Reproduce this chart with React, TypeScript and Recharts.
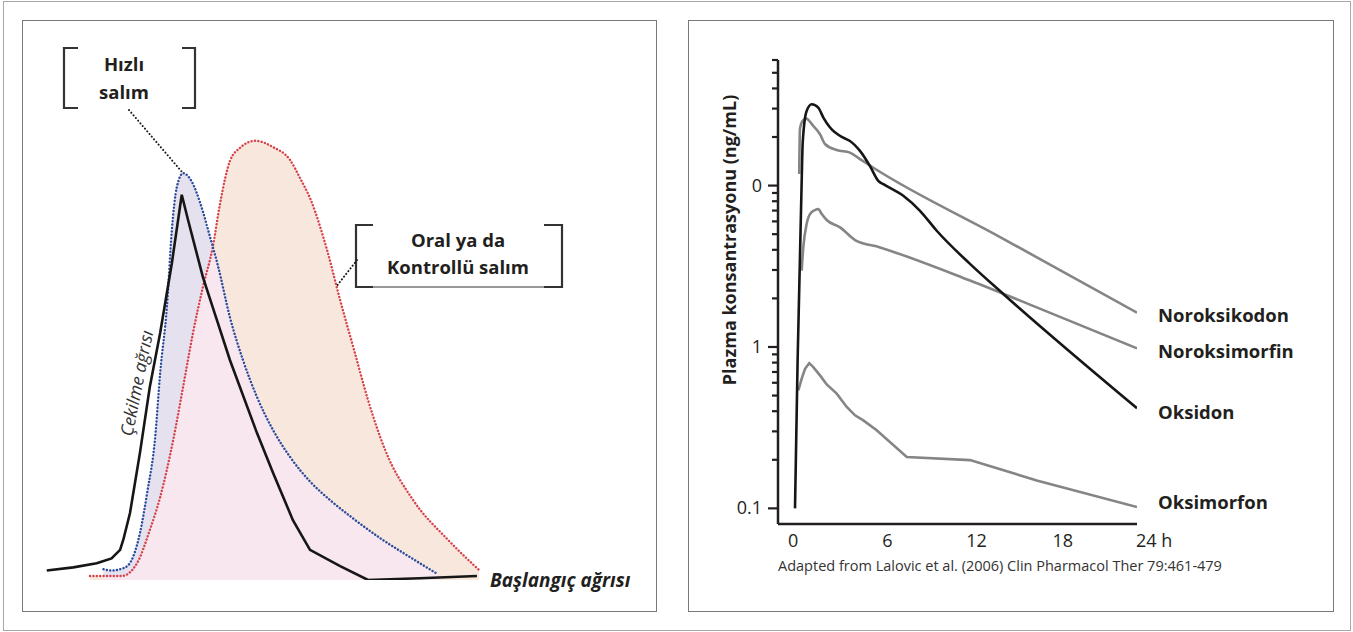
import React from 'react';
import { ComposedChart, LineChart, Line, Area, XAxis, YAxis } from 'recharts';

// ---- left panel: schematic pain curves (arbitrary units, 0-100) ----
// black solid: withdrawal pain with rapid release
const cekilme = [
  { t: 1.5, v: 2.1 }, { t: 7.4, v: 2.8 }, { t: 12.6, v: 3.7 }, { t: 15.9, v: 4.8 },
  { t: 17.8, v: 6.7 }, { t: 18.5, v: 8.9 }, { t: 20.0, v: 14.9 }, { t: 22.2, v: 28.2 },
  { t: 24.4, v: 42.9 }, { t: 26.7, v: 54.9 }, { t: 29.3, v: 70.4 }, { t: 31.5, v: 85.6 },
  { t: 32.9, v: 80.0 }, { t: 36.2, v: 67.3 }, { t: 39.3, v: 57.8 }, { t: 42.2, v: 48.9 },
  { t: 48.2, v: 32.7 }, { t: 51.8, v: 23.8 }, { t: 56.2, v: 13.3 }, { t: 60.0, v: 6.7 },
  { t: 66.7, v: 3.1 }, { t: 72.9, v: 0 }, { t: 84.4, v: 0.4 }, { t: 97.1, v: 0.9 },
];

// blue dotted: rapid release
const hizli = [
  { t: 14.1, v: 2.4 }, { t: 15.9, v: 2.1 }, { t: 17.8, v: 2.4 }, { t: 19.6, v: 3.3 },
  { t: 20.7, v: 5.2 }, { t: 22.2, v: 10.4 }, { t: 23.8, v: 19.3 }, { t: 25.6, v: 31.8 },
  { t: 26.7, v: 46.0 }, { t: 28.2, v: 60.7 }, { t: 29.3, v: 77.8 }, { t: 30.4, v: 87.3 },
  { t: 31.8, v: 90.4 }, { t: 33.8, v: 88.4 }, { t: 35.6, v: 83.8 }, { t: 37.8, v: 76.2 },
  { t: 39.6, v: 69.6 }, { t: 42.2, v: 58.4 }, { t: 45.1, v: 48.9 }, { t: 48.2, v: 40.7 },
  { t: 51.8, v: 33.3 }, { t: 55.6, v: 27.3 }, { t: 60.0, v: 21.9 }, { t: 64.4, v: 17.8 },
  { t: 68.9, v: 14.2 }, { t: 75.6, v: 9.3 }, { t: 82.2, v: 5.1 }, { t: 88.4, v: 1.3 },
];

// red dotted: oral / controlled release
const kontrollu = [
  { t: 11.1, v: 0.9 }, { t: 18.2, v: 0.9 }, { t: 21.6, v: 3.8 }, { t: 24.4, v: 11.1 },
  { t: 26.7, v: 18.4 }, { t: 29.6, v: 31.1 }, { t: 31.8, v: 42.9 }, { t: 34.0, v: 54.9 },
  { t: 36.2, v: 65.1 }, { t: 38.4, v: 74.0 }, { t: 40.0, v: 83.6 }, { t: 42.2, v: 93.1 },
  { t: 44.4, v: 96.0 }, { t: 47.8, v: 97.6 }, { t: 51.8, v: 96.2 }, { t: 55.6, v: 93.3 },
  { t: 57.8, v: 89.3 }, { t: 60.2, v: 84.4 }, { t: 63.8, v: 73.3 }, { t: 66.7, v: 62.2 },
  { t: 69.8, v: 51.1 }, { t: 72.9, v: 40.0 }, { t: 76.7, v: 28.9 }, { t: 82.9, v: 17.8 },
  { t: 90.7, v: 8.9 }, { t: 97.6, v: 2.2 },
];

// ---- right panel: plasma concentration (ng/mL) vs hours ----
const oksidon = [
  { t: 0.47, c: 0.1 }, { t: 0.65, c: 0.83 }, { t: 0.93, c: 10.7 }, { t: 1.0, c: 18.5 },
  { t: 1.27, c: 29 }, { t: 1.62, c: 31.9 }, { t: 2.07, c: 30.4 }, { t: 2.42, c: 26.4 },
  { t: 2.88, c: 22.9 }, { t: 3.79, c: 19.8 }, { t: 4.25, c: 18.9 }, { t: 4.94, c: 16.4 },
  { t: 5.63, c: 13.2 }, { t: 6.2, c: 10.7 }, { t: 6.55, c: 10.2 }, { t: 7.92, c: 8.65 },
  { t: 9.07, c: 6.98 }, { t: 10.22, c: 5.25 }, { t: 12.51, c: 3.27 }, { t: 14.8, c: 2.13 },
  { t: 24, c: 0.417 },
];

const noroksikodon = [
  { t: 0.76, c: 11.8 }, { t: 0.81, c: 22.4 }, { t: 1.0, c: 25.2 }, { t: 1.23, c: 26.0 },
  { t: 1.73, c: 23.4 }, { t: 2.19, c: 20.8 }, { t: 2.53, c: 18.1 }, { t: 3.34, c: 16.6 },
  { t: 4.25, c: 16.0 }, { t: 4.94, c: 14.6 }, { t: 5.86, c: 12.9 }, { t: 14.58, c: 4.8 },
  { t: 24, c: 1.63 },
];

const noroksimorfin = [
  { t: 0.93, c: 2.97 }, { t: 1.04, c: 4.14 }, { t: 1.27, c: 5.78 }, { t: 1.5, c: 6.66 },
  { t: 1.84, c: 7.05 }, { t: 2.07, c: 7.16 }, { t: 2.31, c: 6.66 }, { t: 2.65, c: 6.12 },
  { t: 3.57, c: 5.51 }, { t: 4.6, c: 4.6 }, { t: 6.32, c: 4.14 }, { t: 12.51, c: 2.58 },
  { t: 17.1, c: 1.76 }, { t: 24, c: 0.98 },
];

const oksimorfon = [
  { t: 0.7, c: 0.538 }, { t: 0.93, c: 0.636 }, { t: 1.16, c: 0.733 }, { t: 1.45, c: 0.794 },
  { t: 1.73, c: 0.75 }, { t: 2.19, c: 0.667 }, { t: 2.65, c: 0.586 }, { t: 3.34, c: 0.514 },
  { t: 4.03, c: 0.425 }, { t: 4.6, c: 0.377 }, { t: 5.17, c: 0.351 }, { t: 6.09, c: 0.305 },
  { t: 8.16, c: 0.208 }, { t: 12.51, c: 0.199 }, { t: 17.1, c: 0.149 }, { t: 24, c: 0.102 },
];

const hourTicks = [0, 6, 12, 18, 24];
const concTicks = [0.1, 0.2, 0.3, 0.4, 0.5, 0.6, 0.7, 0.8, 0.9, 1, 2, 3, 4, 5, 6, 7, 8, 9, 10, 20, 30, 40, 50, 60];
// the original figure labels the 10 decade as "0"
const concLabels: Record<string, string> = { '10': '0', '1': '1', '0.1': '0.1' };

const INK = '#231f20';
const GREY = '#858585';
const FONT = '"Open Sans", sans-serif';

function YTick(props: any) {
  const { x, y, payload } = props;
  const label = concLabels[String(payload.value)];
  const len = label !== undefined ? 10 : 6;
  return (
    <g>
      <line x1={x - len} x2={x} y1={y} y2={y} stroke={INK} strokeWidth={2.2} />
      {label !== undefined && (
        <text x={x - 16} y={y + 6} textAnchor="end" fontSize={18} fill={INK} fontFamily={FONT}>
          {label}
        </text>
      )}
    </g>
  );
}

const xShift = [5, 12, 14, 13];
function XTick(props: any) {
  const { x, y, payload, index } = props;
  const last = payload.value === 24;
  return (
    <text
      x={last ? x - 1 : x + (xShift[index] || 0)}
      y={y + 23}
      textAnchor={last ? 'start' : 'middle'}
      fontSize={18}
      fill={INK}
      fontFamily={FONT}
    >
      {last ? '24 h' : payload.value}
    </text>
  );
}

const endLabel = (name: string, dy: number, n: number) => (p: any) =>
  p.index === n - 1 ? (
    <text x={p.x + 21} y={p.y + dy} fontSize={18.5} fontWeight={700} fill={INK} fontFamily={FONT}>
      {name}
    </text>
  ) : (
    <g />
  );

const dotted = { strokeWidth: 2.4, strokeDasharray: '0.1 3.3', strokeLinecap: 'round' as const };

export default function App() {
  return (
    <div
      style={{
        position: 'absolute', left: 0, top: 0, width: 1353, height: 632,
        background: '#fff', overflow: 'hidden', fontFamily: FONT,
      }}
    >
      <style>{`.leftchart .recharts-area-area, .leftchart .blendfill, .leftchart .blendfill path { mix-blend-mode: lighten; }`}</style>

      {/* frames */}
      <div style={{ position: 'absolute', left: 3, top: 1, width: 1348, height: 630, border: '1px solid #a8a8a8', boxSizing: 'border-box' }} />
      <div style={{ position: 'absolute', left: 22, top: 20, width: 635, height: 592, border: '1.5px solid #7a7a7a', boxSizing: 'border-box' }} />
      <div style={{ position: 'absolute', left: 688, top: 20, width: 646, height: 592, border: '1.5px solid #7a7a7a', boxSizing: 'border-box' }} />

      {/* left: schematic */}
      <div className="leftchart" style={{ position: 'absolute', left: 40, top: 130, isolation: 'isolate' }}>
        <ComposedChart width={450} height={450} margin={{ top: 0, right: 0, bottom: 0, left: 0 }}>
          <XAxis type="number" dataKey="t" domain={[0, 100]} hide allowDataOverflow />
          <YAxis type="number" domain={[0, 100]} hide allowDataOverflow />
          <Area data={kontrollu} dataKey="v" type="monotone" className="blendfill" fill="#f8e7dd" fillOpacity={1} stroke="none" isAnimationActive={false} />
          <Area data={hizli} dataKey="v" type="monotone" className="blendfill" fill="#e5e1ef" fillOpacity={1} stroke="none" isAnimationActive={false} />
          <Line data={kontrollu} dataKey="v" type="monotone" stroke="#d7424a" {...dotted} dot={false} isAnimationActive={false} />
          <Line data={hizli} dataKey="v" type="monotone" stroke="#2a4b9b" {...dotted} dot={false} isAnimationActive={false} />
          <Line data={cekilme} dataKey="v" type="linear" stroke="#161616" strokeWidth={2.6} dot={false} isAnimationActive={false} />
        </ComposedChart>
      </div>

      {/* right: plasma levels */}
      <div style={{ position: 'absolute', left: 690, top: 22 }}>
        <LineChart width={640} height={588} margin={{ top: 38, right: 193, bottom: 56, left: 28 }}>
          <XAxis
            type="number" dataKey="t" domain={[-0.7, 24]} ticks={hourTicks} interval={0}
            tick={<XTick />} tickLine={false} tickSize={0} tickMargin={0} height={30}
            axisLine={{ stroke: INK, strokeWidth: 2.5 }} allowDataOverflow
          />
          <YAxis
            type="number" scale="log" domain={[0.08, 60]} ticks={concTicks} interval={0}
            tick={<YTick />} tickLine={false} tickSize={0} tickMargin={0} width={60}
            axisLine={{ stroke: INK, strokeWidth: 2.5 }} allowDataOverflow
            label={{
              content: (p: any) => {
                const cx = p.viewBox.x + 11;
                const cy = p.viewBox.y + 180;
                return (
                  <text x={cx} y={cy} transform={`rotate(-90, ${cx}, ${cy})`} textAnchor="middle" dominantBaseline="central"
                    fontSize={18} fontWeight={700} fill={INK} fontFamily={FONT}>
                    Plazma konsantrasyonu (ng/mL)
                  </text>
                );
              },
            }}
          />
          <Line data={noroksikodon} dataKey="c" type="monotone" stroke={GREY} strokeWidth={2.6} dot={false} isAnimationActive={false}
            label={endLabel('Noroksikodon', 9, noroksikodon.length)} />
          <Line data={noroksimorfin} dataKey="c" type="monotone" stroke={GREY} strokeWidth={2.6} dot={false} isAnimationActive={false}
            label={endLabel('Noroksimorfin', 10, noroksimorfin.length)} />
          <Line data={oksimorfon} dataKey="c" type="linear" stroke={GREY} strokeWidth={2.6} dot={false} isAnimationActive={false}
            label={endLabel('Oksimorfon', 2, oksimorfon.length)} />
          <Line data={oksidon} dataKey="c" type="monotone" stroke="#161616" strokeWidth={2.6} dot={false} isAnimationActive={false}
            label={endLabel('Oksidon', 11, oksidon.length)} />
        </LineChart>
      </div>

      {/* annotations */}
      <svg width={1353} height={632} style={{ position: 'absolute', left: 0, top: 0, pointerEvents: 'none' }}>
        <g fill="none" stroke="#333" strokeWidth={2.2}>
          <path d="M78,48 H64 V108 H78" />
          <path d="M182,48 H195 V108 H182" />
          <path d="M373,225 H356 V287 H373" />
          <path d="M544,225 H562 V287 H544" />
        </g>
        <line x1={356} y1={287} x2={562} y2={287} stroke="#333" strokeWidth={1} />
        <g stroke="#1a1a1a" strokeWidth={2} strokeDasharray="0.1 3.4" strokeLinecap="round">
          <line x1={129} y1={110} x2={182} y2={172} />
          <line x1={357} y1={260} x2={336} y2={287} />
        </g>
        <g fontFamily={FONT} fontWeight={700} fontSize={18.5} fill={INK} textAnchor="middle">
          <text x={124} y={71}>Hızlı</text>
          <text x={124} y={99}>salım</text>
          <text x={458} y={247}>Oral ya da</text>
          <text x={458} y={274}>Kontrollü salım</text>
        </g>
        <text x={136} y={383} transform="rotate(-78.7, 136, 383)" textAnchor="middle" dominantBaseline="central"
          fontFamily={FONT} fontStyle="italic" fontSize={17.5} fill="#333">
          Çekilme ağrısı
        </text>
        <text x={490} y={587} fontFamily={FONT} fontStyle="italic" fontWeight={700} fontSize={19} fill={INK}>
          Başlangıç ağrısı
        </text>
        <text x={778} y={571} fontFamily={FONT} fontSize={14.5} fill="#333">
          Adapted from Lalovic et al. (2006) Clin Pharmacol Ther 79:461-479
        </text>
      </svg>
    </div>
  );
}
